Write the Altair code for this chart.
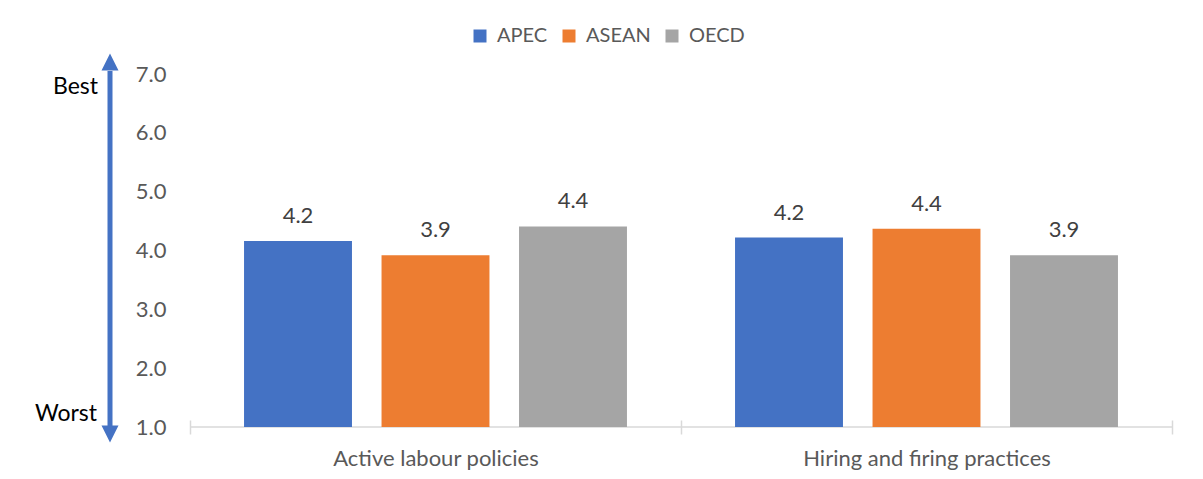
import altair as alt
import pandas as pd

categories = ["Active labour policies", "Hiring and firing practices"]
series = ["APEC", "ASEAN", "OECD"]
apec = [4.16, 4.22]
asean = [3.92, 4.37]
oecd = [4.41, 3.92]
colors = ["#4472C4", "#ED7D31", "#A5A5A5"]
y_ticks = [1, 2, 3, 4, 5, 6, 7]

rows = []
for name, vals in zip(series, [apec, asean, oecd]):
    for c, v in zip(categories, vals):
        rows.append({"category": c, "series": name, "value": v})
df = pd.DataFrame(rows)

FONT = "Lato"
FS = 22
W, H = 982, 353

x_enc = alt.X(
    "category:N",
    sort=categories,
    title=None,
    scale=alt.Scale(paddingInner=0, paddingOuter=0),
    axis=alt.Axis(
        labelAngle=0, tickBand="extent", tickSize=14, offset=-7, domain=False,
        tickColor="#D9D9D9", tickWidth=1.5, labelFont=FONT, labelFontSize=FS,
        labelColor="#595959", labelPadding=14, grid=False, labelLimit=600,
    ),
)
xo_enc = alt.XOffset("series:N", sort=series,
                     scale=alt.Scale(paddingInner=0.215, paddingOuter=0.393))
y_enc = alt.Y(
    "value:Q",
    title=None,
    scale=alt.Scale(domain=[1, 7], zero=False, nice=False),
    axis=alt.Axis(values=y_ticks, format=".1f", grid=False, ticks=False, domain=False,
                  labelFont=FONT, labelFontSize=FS, labelColor="#595959", labelPadding=24),
)

base = alt.Chart(df).encode(x=x_enc, xOffset=xo_enc, y=y_enc)

bars = base.mark_bar().encode(
    y2=alt.datum(1),
    color=alt.Color(
        "series:N", sort=series,
        scale=alt.Scale(domain=series, range=colors),
        legend=alt.Legend(
            title=None, orient="none", legendX=280, legendY=-48, direction="horizontal",
            symbolType="square", symbolSize=169, symbolStrokeWidth=0,
            labelFont=FONT, labelFontSize=20, labelColor="#595959",
            columnPadding=11, labelOffset=7, padding=0,
        ),
    ),
)

labels = base.mark_text(font=FONT, fontSize=FS, color="#404040", baseline="alphabetic", dy=-18).encode(
    text=alt.Text("value:Q", format=".1f")
)

one = pd.DataFrame({"a": [0]})
baseline = alt.Chart(one).mark_rule(color="#D9D9D9", strokeWidth=1.5).encode(y=alt.datum(1))

arrow_col = "#4472C4"
shaft = alt.Chart(one).mark_rule(color=arrow_col, strokeWidth=5).encode(
    x=alt.value(-80), y=alt.value(-3), y2=alt.value(352)
)
tri_up = alt.Chart(one).mark_point(shape="M0,-1L1,1L-1,1Z", filled=True, size=289,
                                     color=arrow_col, opacity=1).encode(
    x=alt.value(-80), y=alt.value(-12)
)
tri_down = alt.Chart(one).mark_point(shape="M0,1L1,-1L-1,-1Z", filled=True, size=289,
                                       color=arrow_col, opacity=1).encode(
    x=alt.value(-80), y=alt.value(360)
)
best = alt.Chart(one).mark_text(font=FONT, fontSize=23, color="#000000", align="right",
                                baseline="middle").encode(
    x=alt.value(-92), y=alt.value(13), text=alt.value("Best")
)
worst = alt.Chart(one).mark_text(font=FONT, fontSize=23, color="#000000", align="right",
                                 baseline="middle").encode(
    x=alt.value(-93), y=alt.value(340), text=alt.value("Worst")
)

chart = alt.layer(baseline, bars, labels, shaft, tri_up, tri_down, best, worst).properties(
    width=W, height=H,
    autosize=alt.AutoSizeParams(type="none"),
    padding={"left": 182, "top": 66, "right": 20, "bottom": 50},
).configure(background="white").configure_view(stroke=None, strokeWidth=0)

chart.save("out.html", embed_options={"renderer": "svg", "actions": False})
